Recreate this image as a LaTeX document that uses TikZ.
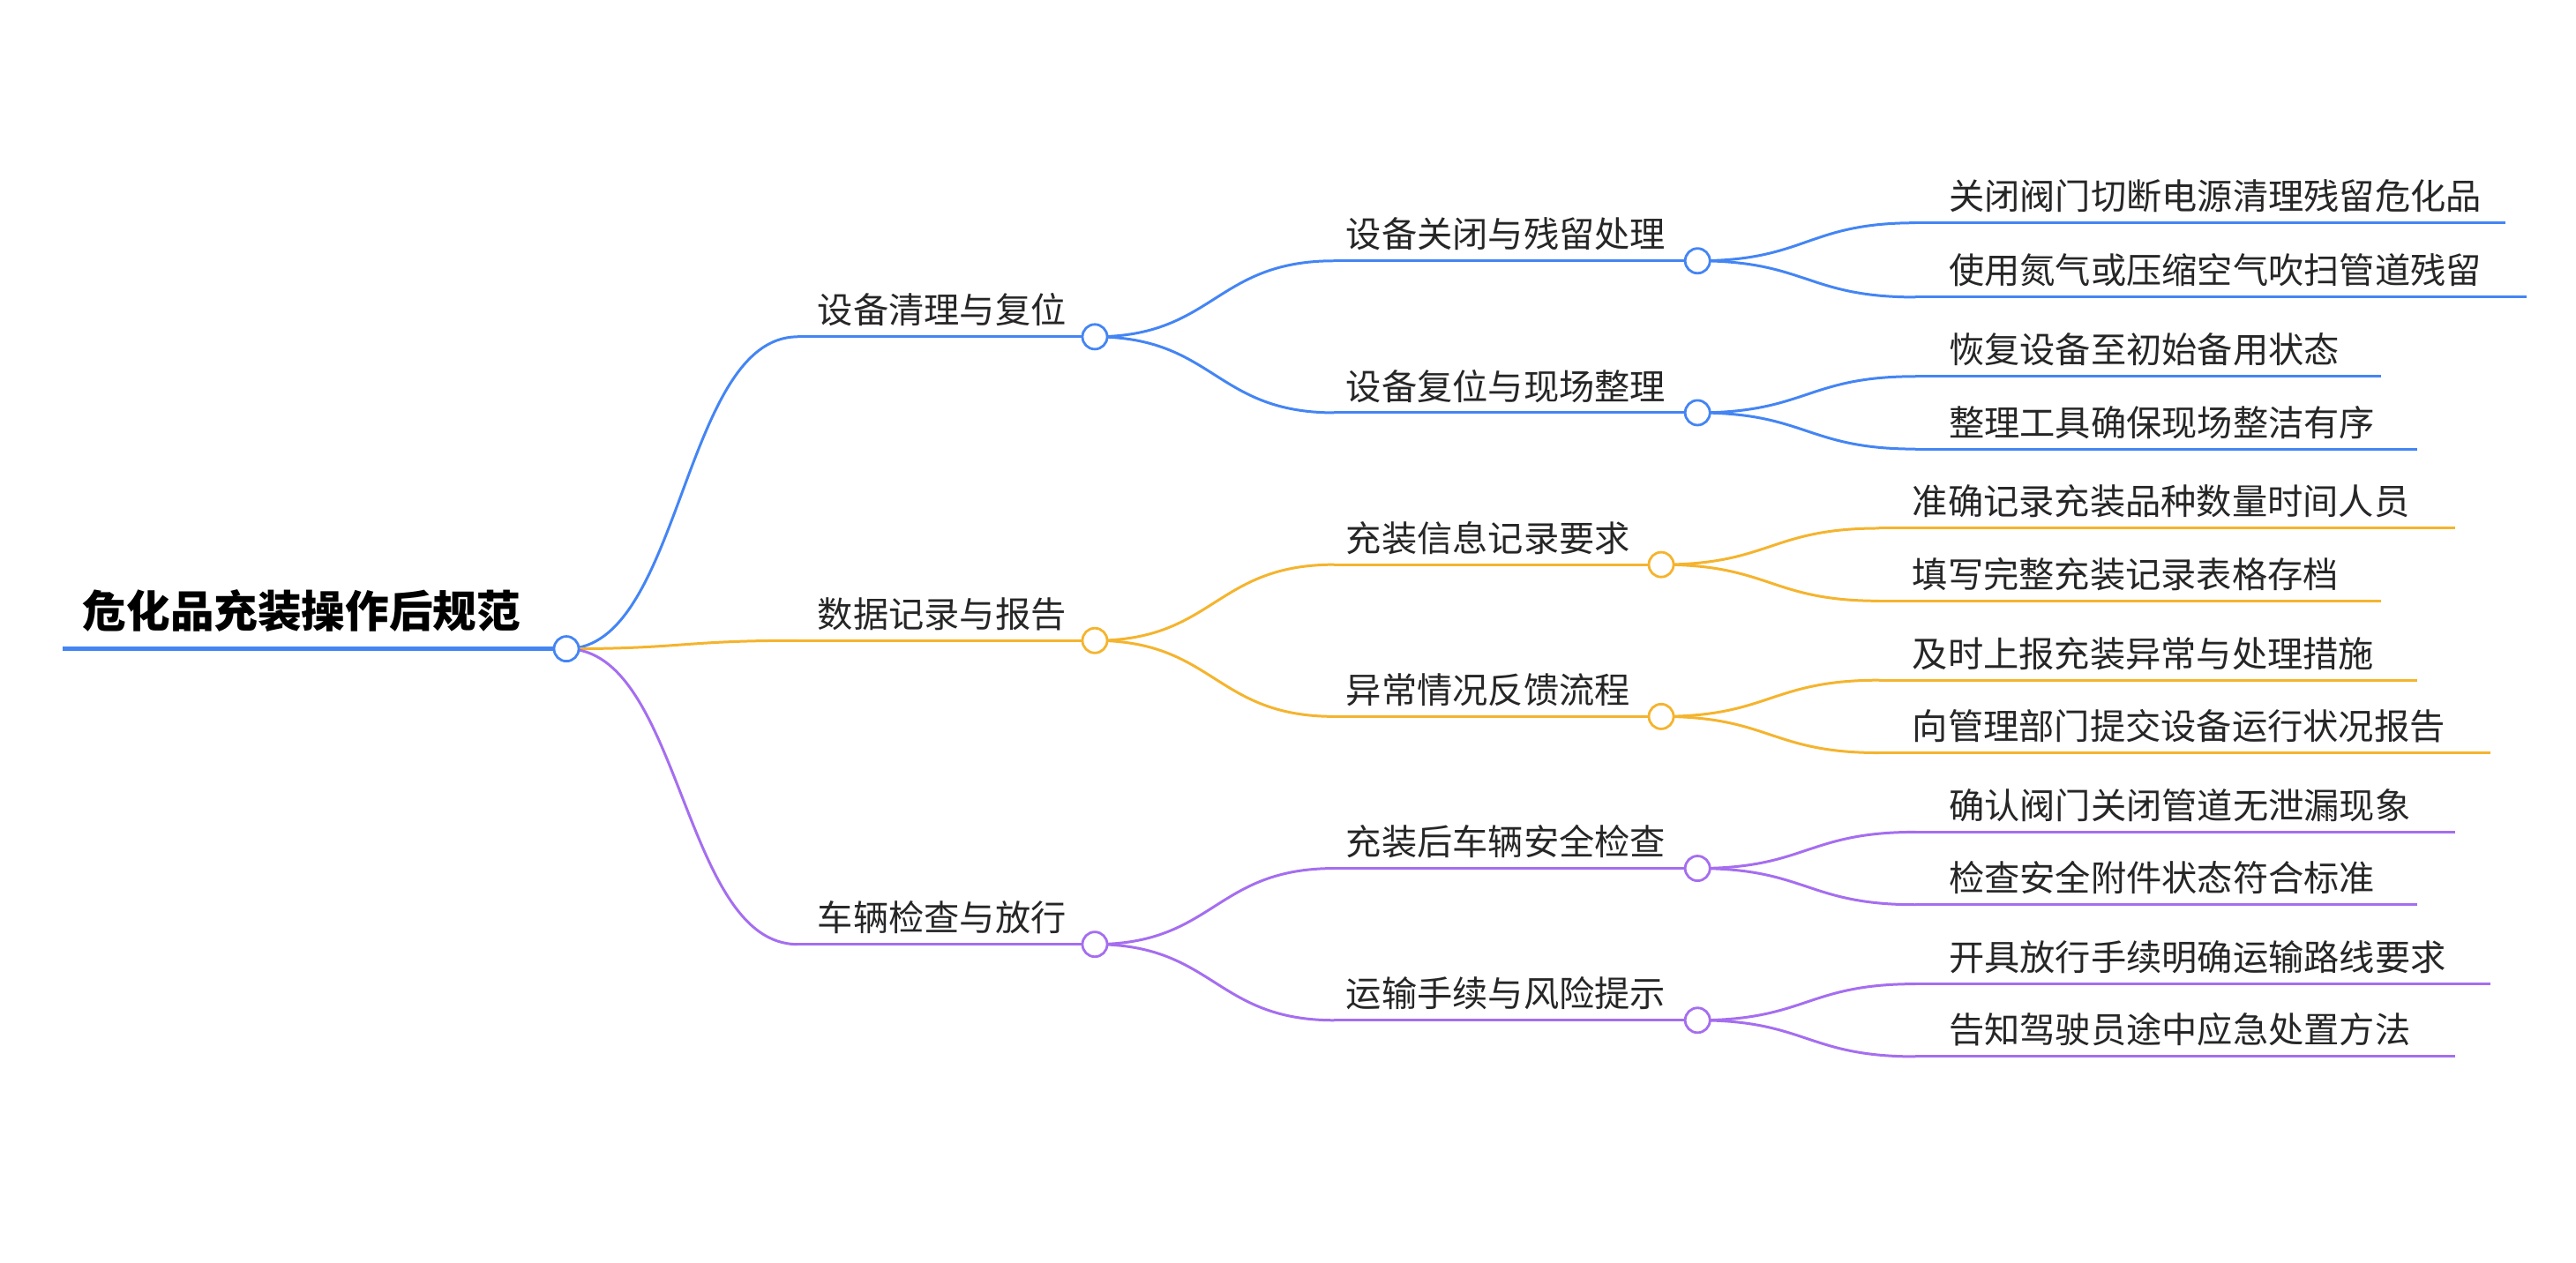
\documentclass[tikz,border=0pt]{standalone}
\usepackage{fontspec}
\setmainfont{Noto Sans CJK SC}
\usetikzlibrary{calc}
\definecolor{cb}{HTML}{4485F4}
\definecolor{co}{HTML}{F5B42E}
\definecolor{cp}{HTML}{A56EF0}
\tikzset{
 dot/.style={circle,draw=#1,fill=white,line width=1.5pt,minimum size=15pt,inner sep=0pt},
 ln/.style={draw=#1,line width=1.6pt},
 lbl/.style={anchor=south west,inner sep=0pt,font=\fontsize{21.5}{21.5}\selectfont,text=black!85},
}
\newcommand{\cv}[3]{\draw[ln=#1] let \p1=(#2),\p2=(#3) in (\p1) .. controls ({0.5*\x1+0.5*\x2},\y1) and ({0.5*\x1+0.5*\x2},\y2) .. (\p2);}
\begin{document}
\begin{tikzpicture}[x=1pt,y=-1pt]
\useasboundingbox (0,0) rectangle (1560,765);
% root
\draw[ln=cb,line width=2.8pt] (38,393) -- (343,393);
\node[anchor=south west,inner sep=0pt,font=\fontsize{26.5}{26.5}\selectfont\bfseries] (root) at (50,383) {危化品充装操作后规范};
% ---- blue
\coordinate (a1s) at (483,204);
\coordinate (a2s) at (808,158);
\coordinate (a3s) at (808,250);
\draw[ln=cb] (a1s) -- (663,204);
\draw[ln=cb] (a2s) -- (1028,158);
\draw[ln=cb] (a3s) -- (1028,250);
\node[lbl] (t1) at (495,198) {设备清理与复位};
\node[lbl] (t2) at (815,152) {设备关闭与残留处理};
\node[lbl] (t3) at (815,244) {设备复位与现场整理};
\coordinate (b1) at (1160,135); \coordinate (b1e) at (1517,135);
\coordinate (b2) at (1160,180); \coordinate (b2e) at (1530,180);
\coordinate (b3) at (1160,228); \coordinate (b3e) at (1442,228);
\coordinate (b4) at (1160,272); \coordinate (b4e) at (1464,272);
\foreach \p in {1,2,3,4}{\draw[ln=cb] (b\p) -- (b\p e);}
\node[lbl] at (1180,129) {关闭阀门切断电源清理残留危化品};
\node[lbl] at (1180,174) {使用氮气或压缩空气吹扫管道残留};
\node[lbl] at (1180,222) {恢复设备至初始备用状态};
\node[lbl] at (1180,266) {整理工具确保现场整洁有序};
% ---- orange
\coordinate (o1s) at (483,388);
\coordinate (o2s) at (808,342);
\coordinate (o3s) at (808,434);
\draw[ln=co] (o1s) -- (663,388);
\draw[ln=co] (o2s) -- (1006,342);
\draw[ln=co] (o3s) -- (1006,434);
\node[lbl] at (495,382) {数据记录与报告};
\node[lbl] at (815,336) {充装信息记录要求};
\node[lbl] at (815,428) {异常情况反馈流程};
\coordinate (c1) at (1138,320); \coordinate (c1e) at (1487,320);
\coordinate (c2) at (1138,364); \coordinate (c2e) at (1442,364);
\coordinate (c3) at (1138,412); \coordinate (c3e) at (1464,412);
\coordinate (c4) at (1138,456); \coordinate (c4e) at (1508,456);
\foreach \p in {1,2,3,4}{\draw[ln=co] (c\p) -- (c\p e);}
\node[lbl] at (1158,314) {准确记录充装品种数量时间人员};
\node[lbl] at (1158,358) {填写完整充装记录表格存档};
\node[lbl] at (1158,406) {及时上报充装异常与处理措施};
\node[lbl] at (1158,450) {向管理部门提交设备运行状况报告};
% ---- purple
\coordinate (p1s) at (483,572);
\coordinate (p2s) at (808,526);
\coordinate (p3s) at (808,618);
\draw[ln=cp] (p1s) -- (663,572);
\draw[ln=cp] (p2s) -- (1028,526);
\draw[ln=cp] (p3s) -- (1028,618);
\node[lbl] at (495,566) {车辆检查与放行};
\node[lbl] at (815,520) {充装后车辆安全检查};
\node[lbl] at (815,612) {运输手续与风险提示};
\coordinate (d1) at (1160,504); \coordinate (d1e) at (1487,504);
\coordinate (d2) at (1160,548); \coordinate (d2e) at (1464,548);
\coordinate (d3) at (1160,596); \coordinate (d3e) at (1508,596);
\coordinate (d4) at (1160,640); \coordinate (d4e) at (1487,640);
\foreach \p in {1,2,3,4}{\draw[ln=cp] (d\p) -- (d\p e);}
\node[lbl] at (1180,498) {确认阀门关闭管道无泄漏现象};
\node[lbl] at (1180,542) {检查安全附件状态符合标准};
\node[lbl] at (1180,590) {开具放行手续明确运输路线要求};
\node[lbl] at (1180,634) {告知驾驶员途中应急处置方法};
% curves
\coordinate (r) at (343,393);
\coordinate (A) at (663,204); \coordinate (A1) at (1028,158); \coordinate (A2) at (1028,250);
\coordinate (O) at (663,388); \coordinate (O1) at (1006,342); \coordinate (O2) at (1006,434);
\coordinate (P) at (663,572); \coordinate (P1) at (1028,526); \coordinate (P2) at (1028,618);
\cv{cb}{r}{a1s} \cv{co}{r}{o1s} \cv{cp}{r}{p1s}
\cv{cb}{A}{a2s} \cv{cb}{A}{a3s}
\cv{co}{O}{o2s} \cv{co}{O}{o3s}
\cv{cp}{P}{p2s} \cv{cp}{P}{p3s}
\cv{cb}{A1}{b1} \cv{cb}{A1}{b2} \cv{cb}{A2}{b3} \cv{cb}{A2}{b4}
\cv{co}{O1}{c1} \cv{co}{O1}{c2} \cv{co}{O2}{c3} \cv{co}{O2}{c4}
\cv{cp}{P1}{d1} \cv{cp}{P1}{d2} \cv{cp}{P2}{d3} \cv{cp}{P2}{d4}
% dots
\node[dot=cb] at (r) {};
\node[dot=cb] at (A) {}; \node[dot=cb] at (A1) {}; \node[dot=cb] at (A2) {};
\node[dot=co] at (O) {}; \node[dot=co] at (O1) {}; \node[dot=co] at (O2) {};
\node[dot=cp] at (P) {}; \node[dot=cp] at (P1) {}; \node[dot=cp] at (P2) {};
\end{tikzpicture}
\end{document}
